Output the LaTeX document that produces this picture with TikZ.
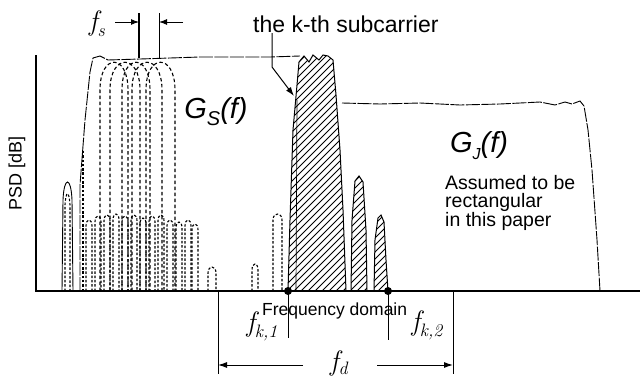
\documentclass[tikz,border=0pt]{standalone}
\usepackage{fontspec}
\setsansfont{Liberation Sans}
\usetikzlibrary{arrows.meta}
\newcommand{\flab}[1]{\itshape f\raisebox{-6pt}{\fontsize{18}{18}\selectfont\itshape #1}}
\tikzset{
  axisline/.style={line width=1.2pt},
  envelope/.style={line width=0.9pt, dash pattern=on 14pt off 1.5pt},
  lobe/.style={line width=1.1pt, dash pattern=on 3.5pt off 2.5pt},
  slobe/.style={line width=1.1pt, dash pattern=on 2.5pt off 1.8pt},
  hatchline/.style={line width=0.8pt},
  hatchedge/.style={line width=1pt},
  dimline/.style={line width=0.8pt},
  dimarrow/.style={line width=1pt, -{Latex[length=9pt,width=6pt]}},
  lbl/.style={font=\sffamily\fontsize{18}{21}\selectfont, inner sep=0pt},
  biglbl/.style={font=\sffamily\itshape\fontsize{29}{32}\selectfont, inner sep=0pt},
  mathlbl/.style={font=\fontsize{28}{30}\selectfont, inner sep=0pt},
  dot/.style={circle, fill=black, inner sep=0pt, minimum size=8pt}
}
\begin{document}
\begin{tikzpicture}[x=1pt,y=-1pt]
\useasboundingbox (0,0) rectangle (640,380);
% axes
\coordinate (axtop) at (36,55);
\coordinate (origin) at (36,291);
\coordinate (baseend) at (640,291);
\draw[axisline] (axtop) -- (origin) -- (baseend);
\node[lbl, rotate=90] (psd) at (17,173) {PSD [dB]};

% left thin peak
\draw[line width=0.9pt] (62,291) -- (63,200) .. controls (64,176) and (71,176) .. (72,200) -- (73,291);
\draw[slobe] (65,291) -- (65,205) .. controls (66,190) and (69,190) .. (70,205) -- (70,291);

% G_S envelope
\draw[envelope] (80,291) -- (80,185) -- (85,120) -- (90,72) -- (93,58) -- (100,56) -- (108,60) -- (140,59) -- (200,57) -- (270,57) -- (300,56);
\draw[slobe] (83,291) -- (83,150);

% dashed subcarrier lobes
\foreach \a/\b in {100/128,110/140,122/150,132/162,146/175}{
  \draw[lobe] (\a,291) -- (\a,90) .. controls (\a,53) and (\b,53) .. (\b,90) -- (\b,291);
}
% small dashed sidelobes
\foreach \x/\t in {86/218,95/214,104/213,113/212,122/214,131/213,140/216,149/214,158/213,167/218,176/220,185/218,192/222}{
  \draw[slobe] (\x,291) -- (\x,\t+8) .. controls (\x,\t) and (\x+6,\t) .. (\x+6,\t+8) -- (\x+6,291);
}
\foreach \x/\t/\w in {208/265/8,252/262/6,273/212/9}{
  \draw[slobe] (\x,291) -- (\x,\t+8) .. controls (\x,\t) and (\x+\w,\t) .. (\x+\w,\t+8) -- (\x+\w,291);
}

% G_J
\draw[envelope] (342,103) -- (380,104) -- (420,103) -- (460,105) -- (500,104) -- (540,102) -- (555,105) -- (565,102) -- (572,104) -- (580,101) -- (584,106) -- (588,130) -- (592,170) -- (597,240) -- (600,291);

% hatched k-th subcarrier
\def\mainlobe{(288,291) -- (290,220) -- (293,130) -- (297,85) -- (299,62) -- (304,56) -- (309,62) -- (313,55) -- (319,60) -- (323,55) -- (328,56) -- (333,60) -- (336,95) -- (340,150) -- (343,210) -- (346,291) -- cycle}
\def\sideone{(351,291) -- (352,220) -- (355,181) -- (359,176) -- (363,182) -- (366,230) -- (367,291) -- cycle}
\def\sidetwo{(374,291) -- (375,240) -- (378,218) -- (381,215) -- (384,222) -- (386,260) -- (388,291) -- cycle}
\begin{scope}
  \clip \mainlobe \sideone \sidetwo;
  \foreach \k in {0,...,52}{
    \draw[hatchline] ({40+7*\k},300) -- ++(250,-250);
  }
\end{scope}
\draw[hatchedge] \mainlobe;
\draw[hatchedge] \sideone;
\draw[hatchedge] \sidetwo;
\draw[line width=0.7pt] (296,291) -- (297,100);

% f_s marker
\coordinate (fsA) at (139,13);
\coordinate (fsAb) at (139,58);
\coordinate (fsB) at (159,13);
\coordinate (fsBb) at (159,58);
\coordinate (fsAL) at (115,22);
\coordinate (fsAR) at (139,22);
\coordinate (fsBR) at (183,22);
\coordinate (fsBL) at (159,22);
\draw[line width=1.8pt] (fsA) -- (fsAb);
\draw[line width=0.7pt] (fsB) -- (fsBb);
\draw[line width=1pt, -{Latex[length=8pt,width=6pt]}] (fsAL) -- (fsAR);
\draw[line width=1pt, -{Latex[length=8pt,width=6pt]}] (fsBR) -- (fsBL);
\node[mathlbl] (fs) at (97,24) {\flab{s}};

% k-th subcarrier label and arrow
\node[lbl, font=\sffamily\fontsize{23}{27}\selectfont, anchor=base west] (kth) at (253,32) {the k-th subcarrier};
\coordinate (kA) at (272,33);
\coordinate (kB) at (272,67);
\coordinate (kC) at (294,96);
\draw[line width=1pt, -{Latex[length=9pt,width=6pt]}] (kA) -- (kB) -- (kC);

% labels G_S, G_J
\node[biglbl] (gs) at (216,112) {G\raisebox{-7pt}{\fontsize{20}{20}\selectfont S}(f)};
\node[biglbl] (gj) at (479,146) {G\raisebox{-7pt}{\fontsize{16}{16}\selectfont J}(f)};
\node[lbl, font=\sffamily\fontsize{19.5}{17.8}\selectfont, align=left, anchor=north west] (assumed) at (445,175) {Assumed to be\\rectangular\\in this paper};

% frequency points
\node[dot] (k1) at (288,291) {};
\node[dot] (k2) at (388,291) {};
\coordinate (k1b) at (288,338);
\coordinate (k2b) at (388,340);
\draw[line width=1pt] (k1.center) -- (k1b);
\draw[line width=0.8pt] (k2.center) -- (k2b);
\node[lbl, font=\sffamily\fontsize{17.5}{20}\selectfont, anchor=base west] (freq) at (262,315) {Frequency domain};
\node[mathlbl] (fk1) at (262,326) {\flab{k,1}};
\node[mathlbl] (fk2) at (427,325) {\flab{k,2}};

% f_d dimension
\coordinate (dL) at (218,291);
\coordinate (dLb) at (218,374);
\coordinate (dR) at (453,290);
\coordinate (dRb) at (453,374);
\coordinate (dLa) at (303,365);
\coordinate (dLe) at (218,365);
\coordinate (dRa) at (377,365);
\coordinate (dRe) at (453,365);
\draw[dimline] (dL) -- (dLb);
\draw[dimline] (dR) -- (dRb);
\draw[dimarrow] (dLa) -- (dLe);
\draw[dimarrow] (dRa) -- (dRe);
\node[mathlbl, anchor=base west] (fd) at (330,370) {\itshape f\raisebox{-4pt}{\fontsize{18}{18}\selectfont\itshape d}};
\end{tikzpicture}
\end{document}
